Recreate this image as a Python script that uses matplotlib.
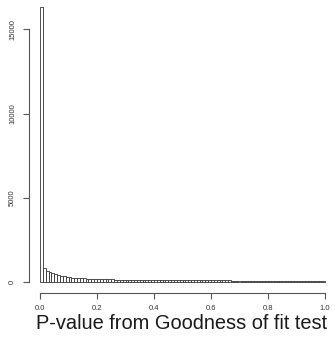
import matplotlib
matplotlib.use("Agg")
import matplotlib.pyplot as plt

# histogram of p-values, 100 bins of width 0.01
bin_left = [i / 100 for i in range(100)]
counts = [
    16340, 870, 690, 610, 550, 475, 435, 395, 355, 320,
    297, 280, 265, 250, 240, 230, 220, 210, 205, 200,
    190, 185, 180, 175, 170, 165, 160, 158, 155, 150,
    148, 146, 144, 142, 140, 138, 136, 134, 132, 130,
    129, 128, 127, 126, 125, 124, 123, 122, 121, 120,
    119, 118, 117, 116, 115, 114, 113, 112, 111, 110,
    110, 109, 108, 107, 106, 105, 105, 104, 103, 102,
    102, 101, 100, 100, 99, 99, 98, 98, 97, 97,
    96, 96, 95, 95, 94, 94, 93, 93, 92, 92,
    91, 91, 90, 90, 90, 89, 89, 88, 88, 88,
]
xticks = [0.0, 0.2, 0.4, 0.6, 0.8, 1.0]
yticks = [0, 5000, 10000, 15000]
xlabel = "P-value from Goodness of fit test"

plt.rcParams["font.family"] = ["Liberation Sans", "DejaVu Sans"]

fig = plt.figure(figsize=(3.35, 3.46), dpi=100)
ax = fig.add_axes([28.6 / 335, 52.7 / 346, 307.8 / 335, 297.8 / 346])

ax.bar(bin_left, counts, width=0.01, align="edge", facecolor="white",
       edgecolor="#333333", linewidth=0.6)

ax.set_xlim(-0.04, 1.04)
ax.set_ylim(-654, 17000)
for s in ("top", "right"):
    ax.spines[s].set_visible(False)
ax.spines["left"].set_bounds(0, 15000)
ax.spines["bottom"].set_bounds(0, 1)
for s in ("left", "bottom"):
    ax.spines[s].set_color("#555555")
    ax.spines[s].set_linewidth(0.8)

ax.set_xticks(xticks)
ax.set_xticklabels([f"{v:.1f}" for v in xticks])
ax.set_yticks(yticks)
ax.set_yticklabels([str(v) for v in yticks], rotation=90, va="center")
ax.tick_params(axis="both", length=4, width=0.8, color="#555555",
               labelsize=5.5, labelcolor="#333333")
ax.tick_params(axis="x", pad=4.5)
ax.tick_params(axis="y", pad=5)

fig.text(182 / 335, 1 - 329 / 346, xlabel, ha="center", va="baseline",
         fontsize=14.4, color="#1a1a1a")

fig.savefig("out.png", dpi=100)
